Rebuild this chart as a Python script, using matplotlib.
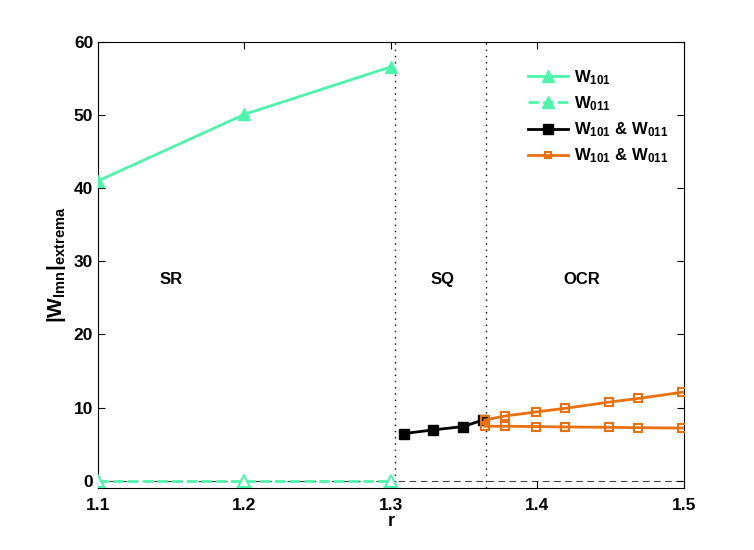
import matplotlib
matplotlib.use("Agg")
import matplotlib.pyplot as plt
from matplotlib.lines import Line2D

plt.rcParams["font.family"] = ["Liberation Sans", "DejaVu Sans"]
plt.rcParams["font.weight"] = "bold"
plt.rcParams["mathtext.fontset"] = "custom"
plt.rcParams["mathtext.rm"] = "Liberation Sans:bold"
plt.rcParams["mathtext.it"] = "Liberation Sans:bold"
plt.rcParams["mathtext.bf"] = "Liberation Sans:bold"

GREEN = "#4DF5AA"
ORANGE = "#E8700F"

# SR region
r_sr = [1.1, 1.2, 1.3]
w101_sr = [41.0, 50.1, 56.6]
w011_sr = [0.0, 0.0, 0.0]

# SQ region
r_sq = [1.309, 1.329, 1.349, 1.363]
w_sq = [6.45, 6.95, 7.4, 8.3]

# OCR region
r_ocr = [1.364, 1.378, 1.399, 1.419, 1.449, 1.469, 1.499]
w_ocr_hi = [8.3, 8.85, 9.4, 9.9, 10.75, 11.25, 12.1]
w_ocr_lo = [7.45, 7.45, 7.4, 7.35, 7.3, 7.25, 7.2]

boundaries = [1.3025, 1.365]
regions = ["SR", "SQ", "OCR"]
region_x = [1.15, 1.335, 1.43]
region_y = 27.5

fig = plt.figure(figsize=(7.54, 5.5), dpi=100)
ax = fig.add_axes([0.13, 0.1127, 0.777, 0.811])

ax.axhline(0, color="#444444", linestyle=(0, (6, 4)), linewidth=0.8, zorder=1)
for b in boundaries:
    ax.axvline(b, color="black", linestyle=(0, (1, 3.5)), linewidth=1.0, zorder=1)

ax.plot(r_sr, w101_sr, color=GREEN, linewidth=2, marker="^",
        markersize=8, markerfacecolor=GREEN, markeredgecolor=GREEN, zorder=3)
ax.plot(r_sr, w011_sr, color=GREEN, linewidth=2, linestyle="--", marker="^",
        markersize=8, markerfacecolor="white", markeredgecolor=GREEN,
        markeredgewidth=1.5, zorder=3)
ax.plot(r_sq, w_sq, color="black", linewidth=2, marker="s",
        markersize=6.5, zorder=3)
ax.plot(r_ocr, w_ocr_hi, color=ORANGE, linewidth=2, marker="s",
        markersize=6, markerfacecolor="none", markeredgewidth=1.5, zorder=3)
ax.plot(r_ocr, w_ocr_lo, color=ORANGE, linewidth=2, marker="s",
        markersize=6, markerfacecolor="none", markeredgewidth=1.5, zorder=3)

for name, x in zip(regions, region_x):
    ax.text(x, region_y, name, ha="center", va="center",
            fontsize=12, fontweight="bold")

handles = [
    Line2D([], [], color=GREEN, linewidth=2, marker="^", markersize=8),
    Line2D([], [], color=GREEN, linewidth=2, linestyle="--", marker="^", markersize=8),
    Line2D([], [], color="black", linewidth=2, marker="s", markersize=6.5),
    Line2D([], [], color=ORANGE, linewidth=2, marker="s", markersize=5,
           markerfacecolor="none", markeredgewidth=1.5),
]
labels = [r"$\mathrm{W_{101}}$", r"$\mathrm{W_{011}}$",
          r"$\mathrm{W_{101}\ &\ W_{011}}$", r"$\mathrm{W_{101}\ &\ W_{011}}$"]
ax.legend(handles, labels, loc="upper right", frameon=False, fontsize=12,
          bbox_to_anchor=(1.0, 0.975), handlelength=2.4, handletextpad=0.4,
          labelspacing=0.45)

ax.set_xlim(1.1, 1.5)
ax.set_ylim(-1, 60)
ax.set_xticks([1.1, 1.2, 1.3, 1.4, 1.5])
ax.set_yticks([0, 10, 20, 30, 40, 50, 60])
ax.tick_params(direction="in", top=True, right=True, labelsize=12.5, length=5)
ax.tick_params(axis="x", pad=7)
for lab in ax.get_xticklabels() + ax.get_yticklabels():
    lab.set_fontweight("bold")
ax.set_xlabel("r", fontsize=13, fontweight="bold", labelpad=0)
ax.set_ylabel(r"$\mathrm{|W_{lmn}|_{extrema}}$", fontsize=15, labelpad=4)

fig.savefig("out.png", dpi=100)
